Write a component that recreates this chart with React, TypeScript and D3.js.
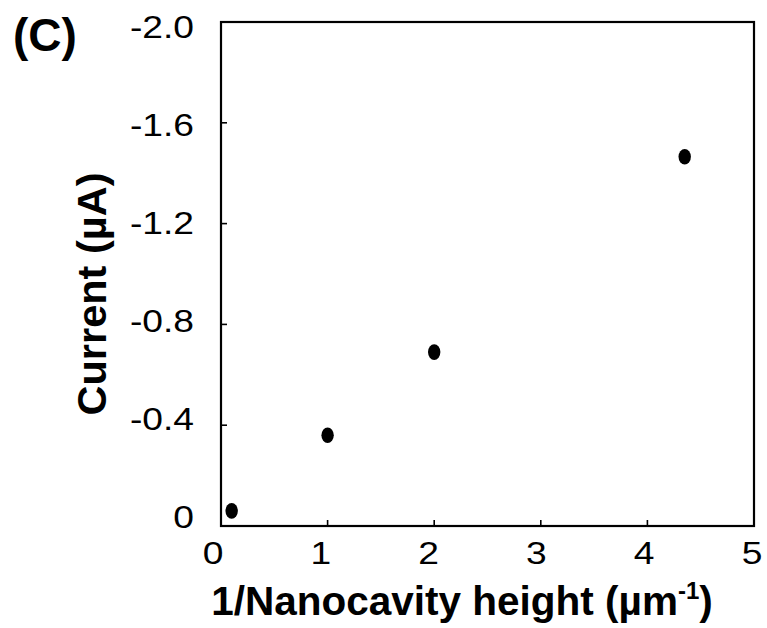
import React from "react";
import * as d3 from "d3";

const xValues = [0.1, 1.0, 2.0, 4.35];
const currentValues = [-0.06, -0.36, -0.69, -1.465];
const xTicks = [0, 1, 2, 3, 4, 5];
const yTicks = [0, -0.4, -0.8, -1.2, -1.6, -2.0];
const panelLabel = "(C)";
const xTitle = "1/Nanocavity height (µm";
const yTitle = "Current (µA)";

const W = 767;
const H = 628;
const FONT = "Arial, 'Liberation Sans', sans-serif";

export default function App() {
  const left = 221, right = 754, top = 22, bottom = 526;
  const x = d3.scaleLinear().domain([0, 5]).range([left, right]);
  const y = d3.scaleLinear().domain([0, -2]).range([bottom, top]);
  // label placement scales (labels are spread slightly tighter than ticks)
  const xl = d3.scaleLinear().domain([0, 5]).range([213, 752]);
  const yl = d3.scaleLinear().domain([0, -2]).range([517, 27]);
  const fmtY = (v: number) => (v === 0 ? "0" : d3.format(".1f")(v).replace("\u2212", "-"));
  const fmtX = (v: number) => d3.format("d")(v);
  const tickLen = 6;

  return (
    <svg width={W} height={H} style={{ position: "absolute", left: 0, top: 0, background: "#fff" }}>
      <rect x={0} y={0} width={W} height={H} fill="#fff" />
      <text x={13} y={51} fontFamily={FONT} fontWeight="bold" fontSize={46} fill="#000">
        {panelLabel}
      </text>
      {/* frame */}
      <rect x={left} y={top} width={right - left} height={bottom - top} fill="none" stroke="#000" strokeWidth={2.2} />
      {/* ticks */}
      {xTicks.slice(1, -1).map((t) => (
        <line key={"xt" + t} x1={x(t)} x2={x(t)} y1={bottom} y2={bottom - tickLen} stroke="#000" strokeWidth={1.6} />
      ))}
      {yTicks.slice(1, -1).map((t) => (
        <line key={"yt" + t} x1={left} x2={left + tickLen} y1={y(t)} y2={y(t)} stroke="#000" strokeWidth={1.6} />
      ))}
      {xTicks.map((t) => (
        <text
          key={"xl" + t}
          transform={`translate(${xl(t)},564) scale(1.22,1)`}
          textAnchor="middle"
          fontFamily={FONT}
          fontSize={30.5}
          fill="#000"
        >
          {fmtX(t)}
        </text>
      ))}
      {yTicks.map((t) => (
        <text
          key={"yl" + t}
          transform={`translate(194,${yl(t) + 11}) scale(1.22,1)`}
          textAnchor="end"
          fontFamily={FONT}
          fontSize={30.5}
          fill="#000"
        >
          {fmtY(t)}
        </text>
      ))}
      {/* points */}
      {xValues.map((v, i) => (
        <ellipse key={"p" + i} cx={x(v)} cy={y(currentValues[i])} rx={6.2} ry={7.8} fill="#000" />
      ))}
      {/* x title */}
      <text x={462} y={615} textAnchor="middle" fontFamily={FONT} fontWeight="bold" fontSize={40.5} fill="#000">
        {xTitle}
        <tspan fontSize={24} dy={-16}>-1</tspan>
        <tspan fontSize={40.5} dy={16}>)</tspan>
      </text>
      {/* y title */}
      <text
        transform={`translate(106,294) rotate(-90)`}
        textAnchor="middle"
        fontFamily={FONT}
        fontWeight="bold"
        fontSize={41.5}
        fill="#000"
      >
        {yTitle}
      </text>
    </svg>
  );
}
